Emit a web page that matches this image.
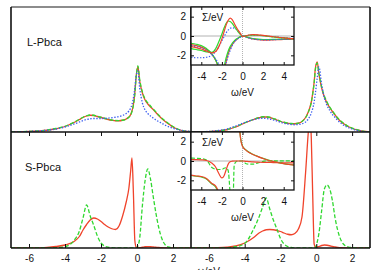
<!DOCTYPE html>
<html>
<head>
<meta charset="utf-8">
<script src="https://cdn.jsdelivr.net/npm/d3@7"></script>
<style>
  html, body { margin: 0; padding: 0; background: #fff; }
  svg { display: block; }
  text { font-family: "Liberation Sans", Arial, Helvetica, sans-serif; fill: #111; }
</style>
</head>
<body>
<div id="wrapper"></div>
<script>
const { select, scaleLinear, line, curveMonotoneX, zip, axisBottom, axisTop, axisLeft, axisRight } = d3;

/* DATA */
// main panels: spectral function A(w), energy grid in eV
const omega = [-7, -6, -5.5, -5, -4.5, -4, -3.5, -3.2, -3, -2.8,
  -2.6, -2.4, -2.2, -2, -1.8, -1.6, -1.4, -1.2, -1, -0.8,
  -0.6, -0.45, -0.35, -0.28, -0.2, -0.12, -0.05, 0.05, 0.15, 0.3,
  0.45, 0.6, 0.75, 0.9, 1.05, 1.2, 1.4, 1.6, 1.8, 2,
  2.3, 2.6, 3];

// L-Pbca, left
const tlRed = [0, 0.01, 0.02, 0.035, 0.065, 0.11, 0.19, 0.25, 0.29, 0.32,
  0.335, 0.33, 0.31, 0.29, 0.27, 0.25, 0.235, 0.225, 0.225, 0.235,
  0.26, 0.3, 0.35, 0.42, 0.55, 0.78, 1.1, 1.3, 1.02, 0.78,
  0.64, 0.56, 0.5, 0.45, 0.39, 0.33, 0.26, 0.2, 0.15, 0.1,
  0.05, 0.02, 0.005];
const tlGreen = [0, 0.012, 0.022, 0.038, 0.07, 0.115, 0.195, 0.255, 0.295, 0.325,
  0.34, 0.335, 0.315, 0.295, 0.275, 0.255, 0.24, 0.23, 0.228, 0.235,
  0.258, 0.295, 0.34, 0.41, 0.53, 0.76, 1.08, 1.32, 1.05, 0.8,
  0.66, 0.58, 0.52, 0.46, 0.4, 0.34, 0.27, 0.21, 0.16, 0.11,
  0.055, 0.022, 0.006];
const tlBlue = [0, 0.012, 0.022, 0.035, 0.06, 0.1, 0.16, 0.2, 0.23, 0.25,
  0.265, 0.27, 0.27, 0.27, 0.272, 0.278, 0.285, 0.295, 0.31, 0.33,
  0.37, 0.42, 0.48, 0.55, 0.68, 0.88, 1.12, 1.22, 0.88, 0.58,
  0.44, 0.37, 0.32, 0.28, 0.24, 0.21, 0.17, 0.13, 0.1, 0.075,
  0.045, 0.025, 0.01];

// L-Pbca, right
const trRed = [0, 0.008, 0.02, 0.045, 0.1, 0.18, 0.25, 0.285, 0.3, 0.3,
  0.29, 0.265, 0.24, 0.21, 0.19, 0.175, 0.165, 0.165, 0.175, 0.21,
  0.29, 0.4, 0.5, 0.6, 0.78, 1.0, 1.28, 1.4, 1.15, 0.88,
  0.7, 0.58, 0.49, 0.41, 0.34, 0.27, 0.2, 0.15, 0.105, 0.075,
  0.04, 0.015, 0.003];
const trGreen = [0, 0.009, 0.022, 0.048, 0.105, 0.185, 0.255, 0.29, 0.305, 0.305,
  0.295, 0.27, 0.245, 0.215, 0.195, 0.18, 0.17, 0.168, 0.178, 0.21,
  0.285, 0.39, 0.49, 0.59, 0.76, 0.98, 1.25, 1.38, 1.17, 0.9,
  0.72, 0.6, 0.5, 0.42, 0.35, 0.28, 0.21, 0.155, 0.11, 0.078,
  0.042, 0.016, 0.003];
const trBlue = [0, 0.012, 0.03, 0.06, 0.12, 0.19, 0.25, 0.27, 0.275, 0.27,
  0.26, 0.24, 0.22, 0.195, 0.175, 0.16, 0.15, 0.145, 0.15, 0.165,
  0.2, 0.26, 0.32, 0.38, 0.47, 0.6, 0.78, 1.08, 1.3, 0.95,
  0.68, 0.53, 0.43, 0.35, 0.29, 0.23, 0.17, 0.12, 0.085, 0.06,
  0.03, 0.012, 0.003];

// S-Pbca, left
const blRed = [0, 0, 0.003, 0.01, 0.03, 0.06, 0.13, 0.23, 0.36, 0.47,
  0.56, 0.6, 0.58, 0.53, 0.47, 0.42, 0.385, 0.37, 0.44, 0.64,
  0.92, 1.2, 1.55, 1.8, 1.1, 0.15, 0.02, 0.005, 0.005, 0.015,
  0.025, 0.028, 0.025, 0.02, 0.015, 0.01, 0.005, 0.003, 0, 0,
  0, 0, 0];
const blGreen = [0, 0, 0, 0.003, 0.008, 0.025, 0.15, 0.34, 0.6, 0.86,
  0.64, 0.45, 0.24, 0.1, 0.04, 0.015, 0.005, 0, 0, 0,
  0, 0, 0, 0, 0, 0, 0, 0.04, 0.2, 0.85,
  1.35, 1.58, 1.38, 1.03, 0.7, 0.42, 0.17, 0.05, 0.015, 0.005,
  0, 0, 0];

// S-Pbca, right
const brRed = [0, 0.002, 0.005, 0.015, 0.04, 0.1, 0.21, 0.3, 0.34, 0.365,
  0.37, 0.365, 0.35, 0.33, 0.3, 0.275, 0.265, 0.29, 0.38, 0.62,
  1.5, 2.3, 2.65, 2.2, 1.05, 0.08, 0.02, 0.02, 0.03, 0.05,
  0.06, 0.055, 0.045, 0.03, 0.02, 0.012, 0.005, 0.002, 0, 0,
  0, 0, 0];
const brGreen = [0, 0, 0, 0.005, 0.025, 0.09, 0.38, 0.62, 0.82, 1.0,
  0.78, 0.56, 0.38, 0.19, 0.08, 0.03, 0.01, 0.003, 0, 0,
  0, 0, 0, 0, 0, 0, 0.01, 0.12, 0.3, 0.75,
  1.18, 1.26, 1.18, 0.95, 0.6, 0.35, 0.14, 0.05, 0.02, 0.008,
  0, 0, 0];

// insets: self-energy, eV
const sigmaOmega = [-5, -4.5, -4, -3.5, -3, -2.6, -2.3, -2, -1.8, -1.6,
  -1.4, -1.2, -1, -0.8, -0.6, -0.4, -0.2, 0, 0.3, 0.6,
  1, 1.5, 2, 2.5, 3, 3.5, 4, 4.5, 5];

const lReRed = [-1.1, -1.2, -1.35, -1.55, -1.75, -1.6, -1.1, -0.3, 0.4, 1.1,
  1.6, 1.85, 1.7, 1.3, 0.9, 0.55, 0.25, -0.05, 0.0, 0.1,
  0.14, 0.12, 0.06, 0.0, -0.08, -0.14, -0.2, -0.25, -0.28];
const lReGreen = [-1.3, -1.4, -1.5, -1.65, -1.7, -1.3, -0.6, 0.2, 0.8, 1.3,
  1.55, 1.5, 1.3, 1.0, 0.7, 0.4, 0.15, -0.05, 0.02, 0.08,
  0.1, 0.08, 0.03, -0.03, -0.1, -0.15, -0.2, -0.24, -0.27];
const lReBlue = [-2.2, -2.25, -2.25, -2.2, -2.0, -1.6, -1.1, -0.5, -0.1, 0.3,
  0.6, 0.8, 0.85, 0.82, 0.7, 0.5, 0.25, 0.0, 0.02, 0.06,
  0.1, 0.08, 0.04, -0.02, -0.08, -0.13, -0.18, -0.22, -0.25];
const lImRed = [-0.9, -1.0, -1.15, -1.4, -1.85, -2.5, -3.3, -4, -3.6, -2.7,
  -1.9, -1.3, -0.9, -0.6, -0.4, -0.22, -0.08, 0, -0.08, -0.2,
  -0.3, -0.38, -0.42, -0.42, -0.4, -0.38, -0.36, -0.34, -0.32];
const lImGreen = [-0.75, -0.85, -1.0, -1.3, -1.8, -2.5, -3.2, -3.8, -3.2, -2.3,
  -1.6, -1.1, -0.75, -0.5, -0.32, -0.18, -0.07, 0, -0.06, -0.16,
  -0.26, -0.33, -0.36, -0.36, -0.35, -0.33, -0.31, -0.3, -0.28];
const lImBlue = [-1.0, -1.1, -1.25, -1.5, -1.9, -2.4, -2.9, -3.4, -3.3, -2.8,
  -2.1, -1.5, -1.0, -0.65, -0.42, -0.24, -0.1, 0, -0.08, -0.2,
  -0.3, -0.37, -0.4, -0.4, -0.38, -0.36, -0.34, -0.32, -0.3];

// null = off the inset scale (pole in the gap)
const sReRed = [-1.45, -1.55, -1.6, -1.8, -2.3, -2.6, -3.3, -4.5, null, null,
  null, null, null, null, null, 5, 2.4, 1.5, 1.15, 0.9,
  0.68, 0.45, 0.26, 0.08, -0.05, -0.18, -0.28, -0.36, -0.42];
const sReGreen = [-1.5, -1.58, -1.65, -1.85, -2.35, -2.7, -3.4, -4.6, null, null,
  null, null, null, null, null, 5.2, 2.5, 1.55, 1.18, 0.93,
  0.7, 0.47, 0.27, 0.09, -0.05, -0.17, -0.27, -0.35, -0.41];
const sImRed = [0.15, 0.15, 0.12, 0.05, -0.2, -0.65, -1.3, -1.75, -1.55, -0.95,
  -0.35, -0.08, -0.02, 0, 0, 0, 0, 0, -0.03, -0.06,
  -0.1, -0.12, -0.14, -0.15, -0.16, -0.17, -0.18, -0.19, -0.2];
const sImGreen = [0.3, 0.28, 0.25, 0.1, -0.65, -0.85, -0.88, -0.88, -0.75, -0.7,
  -0.95, -3.5, -8, -0.4, -0.05, 0, 0, 0, -0.25, -0.33,
  -0.33, -0.2, -0.03, 0.02, 0.02, 0.02, 0.02, 0.02, 0.02];

const mainTicks = [-6, -4, -2, 0, 2];
const insetXTicks = [-4, -2, 0, 2, 4];
const insetYTicks = [-2, 0, 2];
const panelLabels = ["L-Pbca", "S-Pbca"];
const sigmaLabel = "\u03a3/eV";
const omegaLabel = "\u03c9/eV";

/* DIMENSIONS */
const dimensions = {
  width: 374,
  height: 270,
  left: 11,
  mid: 191,
  right: 370,
  top: 7,
  middle: 132,
  bottom: 248,
  insetRight: 294,
  insetHeight: 58,
};

const colors = { red: "#f0432b", green: "#2fd82f", blue: "#3b5ef0" };
const dashes = { solid: null, dashed: "4,2", dotted: "1.4,1.6" };

/* SCALES */
const xLeft = scaleLinear().domain([-7, 3]).range([dimensions.left, dimensions.mid]);
const xRight = scaleLinear().domain([-7, 3]).range([dimensions.mid, dimensions.right]);
const yTop = scaleLinear().domain([0, 2.5]).range([dimensions.middle, dimensions.top]);
const yBottom = scaleLinear().domain([0, 2.32]).range([dimensions.bottom, dimensions.middle]);

const insetX = scaleLinear().domain([-5, 5]).range([dimensions.mid, dimensions.insetRight]);
const insetYTop = scaleLinear().domain([-3, 3])
  .range([dimensions.top + dimensions.insetHeight, dimensions.top]);
const insetYBottom = scaleLinear().domain([-3, 3])
  .range([dimensions.middle + dimensions.insetHeight, dimensions.middle]);

/* DRAW */
const svg = select("#wrapper").append("svg")
  .attr("width", dimensions.width)
  .attr("height", dimensions.height);

svg.append("rect").attr("width", dimensions.width).attr("height", dimensions.height).attr("fill", "#fff");

const defs = svg.append("defs");
const addClip = (id, x0, x1, y0, y1) => {
  defs.append("clipPath").attr("id", id).append("rect")
    .attr("x", x0).attr("y", y0).attr("width", x1 - x0).attr("height", y1 - y0);
};

const drawSeries = (group, xs, ys, xGrid, values, color, dash, width = 1.3) => {
  const gen = line()
    .defined((d) => d[1] !== null)
    .x((d) => xs(d[0]))
    .y((d) => ys(d[1]))
    .curve(curveMonotoneX);
  group.append("path")
    .attr("d", gen(zip(xGrid, values)))
    .attr("fill", "none")
    .attr("stroke", colors[color])
    .attr("stroke-width", width)
    .attr("stroke-dasharray", dashes[dash])
    .attr("stroke-linejoin", "round");
};

// main panels
const panels = [
  { id: "tl", xs: xLeft, ys: yTop, series: [[tlRed, "red", "solid"], [tlGreen, "green", "dashed"], [tlBlue, "blue", "dotted"]] },
  { id: "tr", xs: xRight, ys: yTop, series: [[trRed, "red", "solid"], [trGreen, "green", "dashed"], [trBlue, "blue", "dotted"]] },
  { id: "bl", xs: xLeft, ys: yBottom, series: [[blRed, "red", "solid"], [blGreen, "green", "dashed"]] },
  { id: "br", xs: xRight, ys: yBottom, series: [[brRed, "red", "solid"], [brGreen, "green", "dashed"]] },
];

panels.forEach((p) => {
  const [x0, x1] = p.xs.range();
  const [y1, y0] = p.ys.range();
  addClip("clip-" + p.id, x0, x1, y0, y1);
  const g = svg.append("g").attr("clip-path", `url(#clip-${p.id})`);
  p.series.forEach(([vals, color, dash]) => drawSeries(g, p.xs, p.ys, omega, vals, color, dash));
});

// ticks on the S-Pbca panels (bottom and mirrored top)
const styleAxis = (g) => {
  g.select(".domain").remove();
  g.selectAll("line").attr("stroke", "#111").attr("stroke-width", 1);
  g.selectAll("text").attr("font-size", 10).attr("font-family", "Liberation Sans, Arial, sans-serif").attr("fill", "#111");
};

[xLeft, xRight].forEach((xs) => {
  svg.append("g")
    .attr("transform", `translate(0,${dimensions.bottom})`)
    .call(axisBottom(xs).tickValues(mainTicks).tickSize(-4).tickPadding(7).tickFormat((d) => String(d)))
    .call(styleAxis);
  svg.append("g")
    .attr("transform", `translate(0,${dimensions.middle})`)
    .call(axisTop(xs).tickValues(mainTicks).tickSize(-4).tickFormat(""))
    .call(styleAxis);
});

// frame
const frame = svg.append("g").attr("fill", "none");
frame.append("line").attr("x1", dimensions.left).attr("x2", dimensions.right)
  .attr("y1", dimensions.top).attr("y2", dimensions.top)
  .attr("stroke", "#8c8c8c").attr("stroke-width", 2);
[[dimensions.left, dimensions.top, dimensions.left, dimensions.bottom],
 [dimensions.right, dimensions.top, dimensions.right, dimensions.bottom],
 [dimensions.mid, dimensions.top, dimensions.mid, dimensions.bottom],
 [dimensions.left, dimensions.bottom, dimensions.right, dimensions.bottom],
 [dimensions.left, dimensions.middle, dimensions.right, dimensions.middle]].forEach(([a, b, c, d]) => {
  frame.append("line").attr("x1", a).attr("y1", b).attr("x2", c).attr("y2", d)
    .attr("stroke", "#111").attr("stroke-width", 1.6);
});

// insets
const insets = [
  { id: "it", ys: insetYTop, series: [
      [lImRed, "red", "solid"], [lImGreen, "green", "solid"], [lImBlue, "blue", "dotted"],
      [lReBlue, "blue", "dotted"], [lReGreen, "green", "solid"], [lReRed, "red", "solid"]] },
  { id: "ib", ys: insetYBottom, series: [
      [sImGreen, "green", "dashed"], [sImRed, "red", "solid"],
      [sReGreen, "green", "solid"], [sReRed, "red", "solid"]] },
];

insets.forEach((inset) => {
  const [x0, x1] = insetX.range();
  const [y1, y0] = inset.ys.range();
  addClip("clip-" + inset.id, x0, x1, y0, y1);

  svg.append("rect").attr("x", x0).attr("y", y0).attr("width", x1 - x0).attr("height", y1 - y0).attr("fill", "#fff");

  const g = svg.append("g").attr("clip-path", `url(#clip-${inset.id})`);
  g.append("line").attr("x1", x0).attr("x2", x1).attr("y1", inset.ys(0)).attr("y2", inset.ys(0))
    .attr("stroke", "#a0a0a0").attr("stroke-width", 0.8);
  g.append("line").attr("x1", insetX(0)).attr("x2", insetX(0)).attr("y1", y0).attr("y2", y1)
    .attr("stroke", "#a0a0a0").attr("stroke-width", 0.8).attr("stroke-dasharray", "1,1");
  inset.series.forEach(([vals, color, dash]) =>
    drawSeries(g, insetX, inset.ys, sigmaOmega, vals, color, dash, 1.2));

  svg.append("g").attr("transform", `translate(0,${y1})`)
    .call(axisBottom(insetX).tickValues(insetXTicks).tickSize(-3).tickPadding(7.5).tickFormat((d) => String(d)))
    .call(styleAxis);
  svg.append("g").attr("transform", `translate(0,${y0})`)
    .call(axisTop(insetX).tickValues(insetXTicks).tickSize(-3).tickFormat(""))
    .call(styleAxis);
  svg.append("g").attr("transform", `translate(${x0},0)`)
    .call(axisLeft(inset.ys).tickValues(insetYTicks).tickSize(-3).tickPadding(5).tickFormat((d) => String(d)))
    .call(styleAxis);
  svg.append("g").attr("transform", `translate(${x1},0)`)
    .call(axisRight(inset.ys).tickValues(insetYTicks).tickSize(-3).tickFormat(""))
    .call(styleAxis);

  svg.append("rect").attr("x", x0).attr("y", y0).attr("width", x1 - x0).attr("height", y1 - y0)
    .attr("fill", "none").attr("stroke", "#111").attr("stroke-width", 1.3);

  svg.append("text").attr("x", x0 + 11).attr("y", y0 + 14).attr("font-size", 10).text(sigmaLabel);
  svg.append("text").attr("x", insetX(0)).attr("y", y1 + 31).attr("font-size", 10)
    .attr("text-anchor", "middle").text(omegaLabel);
});

// panel labels
svg.append("text").attr("x", 27).attr("y", 46).attr("font-size", 11).text(panelLabels[0]);
svg.append("text").attr("x", 25).attr("y", 171).attr("font-size", 11).text(panelLabels[1]);

// main x label, mostly below the visible area
svg.append("text").attr("x", 197).attr("y", 275).attr("font-size", 10).text(omegaLabel);
</script>
</body>
</html>
